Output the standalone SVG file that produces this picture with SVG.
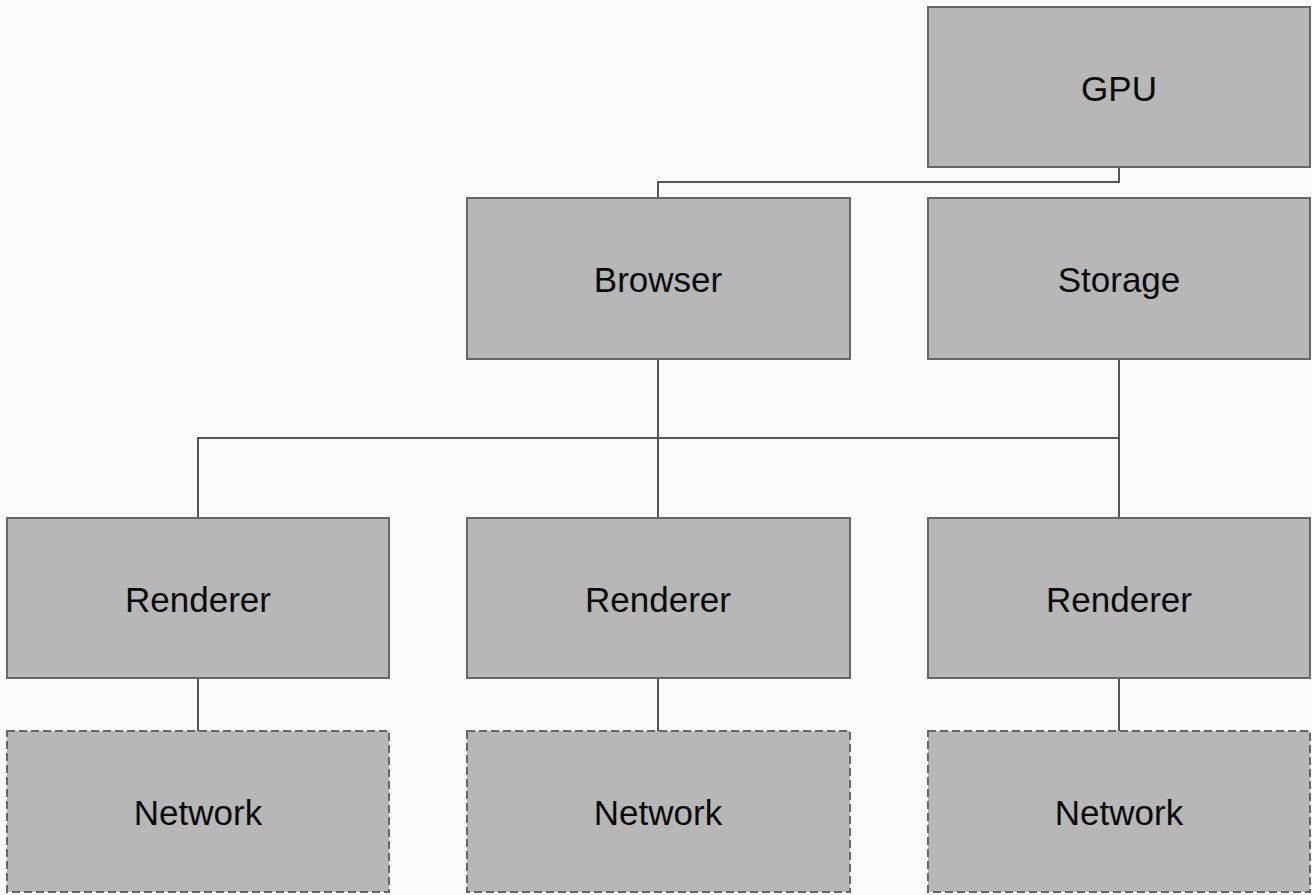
<svg xmlns="http://www.w3.org/2000/svg" width="1312" height="895" viewBox="0 0 1312 895">
<style>
.box{fill:#b7b7b7;stroke:#666;stroke-width:2}
.dash{stroke-dasharray:8 4}
.lbl{font-family:"Liberation Sans",Arial,sans-serif;font-size:35px;fill:#0a0a0a;text-anchor:middle;dominant-baseline:central}
.con{fill:none;stroke:#555;stroke-width:2}
</style>
<rect width="1312" height="895" fill="#fafafa"/>
<g id="connectors">
<path class="con" d="M1119 167V182H658V198"/>
<path class="con" d="M658 359V518"/>
<path class="con" d="M1119 359V518"/>
<path class="con" d="M198 518V438H1119"/>
<path class="con" d="M198 678V731"/>
<path class="con" d="M658 678V731"/>
<path class="con" d="M1119 678V731"/>
</g>
<g id="gpu"><rect class="box" x="928" y="7" width="382" height="160"/><text class="lbl" x="1119" y="88">GPU</text></g>
<g id="browser"><rect class="box" x="467" y="198" width="383" height="161"/><text class="lbl" x="658" y="279">Browser</text></g>
<g id="storage"><rect class="box" x="928" y="198" width="382" height="161"/><text class="lbl" x="1119" y="279">Storage</text></g>
<g id="renderer1"><rect class="box" x="7" y="518" width="382" height="160"/><text class="lbl" x="198" y="599">Renderer</text></g>
<g id="renderer2"><rect class="box" x="467" y="518" width="383" height="160"/><text class="lbl" x="658" y="599">Renderer</text></g>
<g id="renderer3"><rect class="box" x="928" y="518" width="382" height="160"/><text class="lbl" x="1119" y="599">Renderer</text></g>
<g id="network1"><rect class="box dash" x="7" y="731" width="382" height="161"/><text class="lbl" x="198" y="812">Network</text></g>
<g id="network2"><rect class="box dash" x="467" y="731" width="383" height="161"/><text class="lbl" x="658" y="812">Network</text></g>
<g id="network3"><rect class="box dash" x="928" y="731" width="382" height="161"/><text class="lbl" x="1119" y="812">Network</text></g>
</svg>
